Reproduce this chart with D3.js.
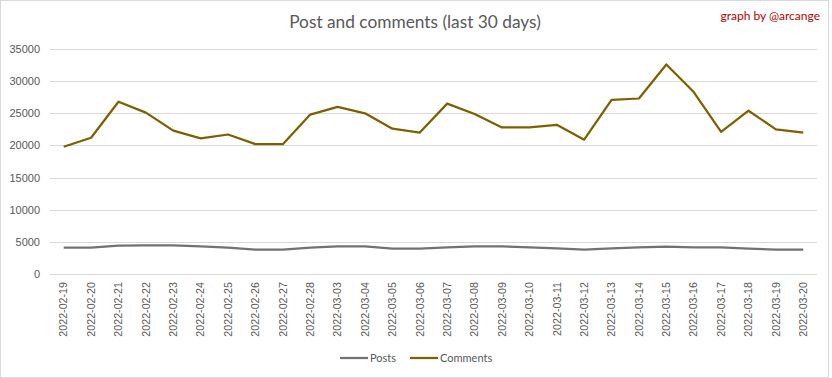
<!DOCTYPE html>
<html>
<head>
<meta charset="utf-8">
<script src="https://cdn.jsdelivr.net/npm/d3@7"></script>
<style>
  body { margin: 0; background: #fff; }
  svg { display: block; font-family: Lato, "Open Sans", sans-serif; }
</style>
</head>
<body>
<div id="viz"></div>
<script>
var dates = ['2022-02-19','2022-02-20','2022-02-21','2022-02-22','2022-02-23','2022-02-24',
  '2022-02-25','2022-02-26','2022-02-27','2022-02-28','2022-03-03','2022-03-04','2022-03-05',
  '2022-03-06','2022-03-07','2022-03-08','2022-03-09','2022-03-10','2022-03-11','2022-03-12',
  '2022-03-13','2022-03-14','2022-03-15','2022-03-16','2022-03-17','2022-03-18','2022-03-19',
  '2022-03-20'];
var posts = [4100, 4100, 4400, 4450, 4450, 4300, 4100, 3800, 3800, 4100, 4300, 4300, 3950,
  3950, 4150, 4300, 4300, 4150, 4000, 3800, 4000, 4150, 4250, 4150, 4150, 3950, 3800, 3800];
var comments = [19800, 21200, 26800, 25100, 22300, 21100, 21700, 20200, 20200, 24800, 26000,
  25000, 22600, 22000, 26500, 24900, 22800, 22800, 23200, 20900, 27100, 27300, 32600, 28300,
  22100, 25400, 22500, 22000];
var yTicks = [0, 5000, 10000, 15000, 20000, 25000, 30000, 35000];

var series = [
  { name: 'Posts', values: posts, color: '#767171' },
  { name: 'Comments', values: comments, color: '#7f6000' }
];

var W = 832, H = 378,
    margin = { top: 49, right: 15, bottom: 104, left: 50 },
    width = W - margin.left - margin.right,
    height = H - margin.top - margin.bottom;

var svg = d3.select('#viz').append('svg')
  .attr('width', W)
  .attr('height', H);

// outer frame
svg.append('rect')
  .attr('x', 0.5).attr('y', 0.5)
  .attr('width', W - 4).attr('height', H - 1)
  .attr('fill', '#fff')
  .attr('stroke', '#d9d9d9');

var xScale = d3.scaleBand()
  .domain(dates)
  .range([0, width]);

var yScale = d3.scaleLinear()
  .domain([0, 35000])
  .range([height, 0]);

var g = svg.append('g')
  .attr('transform', 'translate(' + margin.left + ',' + margin.top + ')');

// gridlines
g.selectAll('line.grid').data(yTicks)
  .enter().append('line')
    .attr('class', 'grid')
    .attr('x1', 0).attr('x2', width)
    .attr('y1', function(d) { return Math.round(yScale(d)) + 0.5; })
    .attr('y2', function(d) { return Math.round(yScale(d)) + 0.5; })
    .attr('stroke', '#d9d9d9')
    .attr('stroke-width', 1);

// y axis labels
var yAxis = d3.axisLeft(yScale)
  .tickValues(yTicks)
  .tickSize(0)
  .tickPadding(10)
  .tickFormat(d3.format('d'));

var yGuide = g.append('g').call(yAxis);
yGuide.select('.domain').remove();
yGuide.selectAll('text')
  .attr('fill', '#595959')
  .style('font-size', '11px');

// x axis labels
var xAxis = d3.axisBottom(xScale).tickSize(0).tickPadding(0);
var xGuide = g.append('g')
  .attr('transform', 'translate(0,' + height + ')')
  .call(xAxis);
xGuide.select('.domain').remove();
xGuide.selectAll('text')
  .attr('fill', '#595959')
  .style('font-size', '10.7px')
  .attr('text-anchor', 'end')
  .attr('transform', 'rotate(-90)')
  .attr('x', -8)
  .attr('y', 0)
  .attr('dy', '0.35em');

// lines
var line = d3.line()
  .x(function(d, i) { return xScale(dates[i]) + xScale.bandwidth() / 2; })
  .y(function(d) { return yScale(d); });

g.selectAll('path.series').data(series)
  .enter().append('path')
    .attr('class', 'series')
    .attr('d', function(s) { return line(s.values); })
    .attr('fill', 'none')
    .attr('stroke', function(s) { return s.color; })
    .attr('stroke-width', 2.25)
    .attr('stroke-linejoin', 'round');

// title
svg.append('text')
  .attr('x', 415).attr('y', 28)
  .attr('text-anchor', 'middle')
  .attr('fill', '#595959')
  .style('font-size', '17.3px')
  .text('Post and comments (last 30 days)');

svg.append('text')
  .attr('x', 820).attr('y', 20)
  .attr('text-anchor', 'end')
  .attr('fill', '#c00000')
  .style('font-size', '12px')
  .text('graph by @arcange');

// legend
var legendPos = [340, 410];
var legend = svg.selectAll('g.legend').data(series)
  .enter().append('g')
    .attr('class', 'legend')
    .attr('transform', function(d, i) { return 'translate(' + legendPos[i] + ',358)'; });
legend.append('line')
  .attr('x1', 0).attr('x2', 28)
  .attr('stroke', function(d) { return d.color; })
  .attr('stroke-width', 2.25);
legend.append('text')
  .attr('x', 30).attr('dy', '0.35em')
  .attr('fill', '#595959')
  .style('font-size', '11px')
  .text(function(d) { return d.name; });
</script>
</body>
</html>
